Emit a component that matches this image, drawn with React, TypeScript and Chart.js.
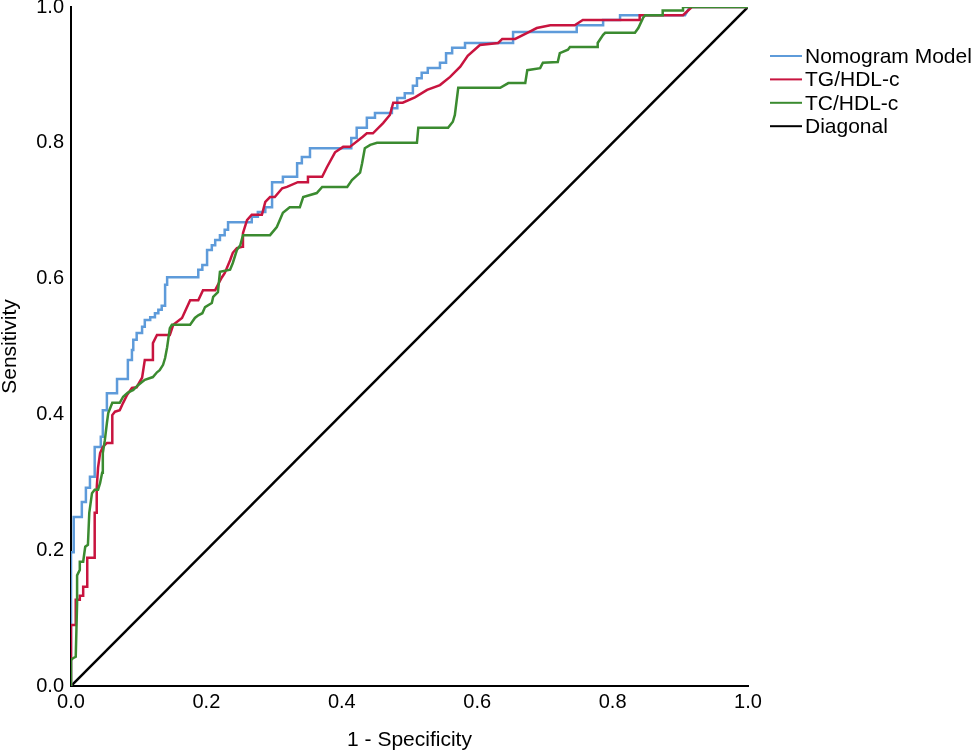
import React, { useEffect, useRef } from "react";
import { Chart, registerables } from "chart.js";

Chart.register(...registerables);

// ---- Data (1 - Specificity, Sensitivity) ----
const seriesLabels = ["Nomogram Model", "TG/HDL-c", "TC/HDL-c", "Diagonal"];
const seriesColors = ["#5E9BDA", "#C8143F", "#3B8B30", "#000000"];

const nomogramFpr = [0,0,0.004,0.004,0.016,0.016,0.022,0.022,0.028,0.028,0.035,0.035,0.044,0.044,0.047,0.047,0.053,0.053,0.068,0.068,0.084,0.084,0.090,0.090,0.092,0.092,0.097,0.097,0.105,0.105,0.109,0.109,0.117,0.117,0.124,0.124,0.129,0.129,0.134,0.134,0.139,0.139,0.142,0.142,0.188,0.188,0.194,0.194,0.201,0.201,0.208,0.208,0.213,0.213,0.220,0.220,0.227,0.227,0.232,0.232,0.267,0.267,0.276,0.276,0.287,0.287,0.297,0.297,0.313,0.313,0.334,0.334,0.341,0.341,0.353,0.353,0.414,0.414,0.422,0.422,0.437,0.437,0.449,0.449,0.474,0.474,0.482,0.482,0.493,0.493,0.505,0.505,0.511,0.511,0.518,0.518,0.527,0.527,0.545,0.545,0.554,0.554,0.563,0.563,0.582,0.582,0.653,0.653,0.747,0.747,0.786,0.786,0.811,0.811,0.907,0.914,1];
const nomogramTpr = [0,0.197,0.197,0.249,0.249,0.271,0.271,0.292,0.292,0.308,0.308,0.352,0.352,0.367,0.367,0.406,0.406,0.431,0.431,0.452,0.452,0.480,0.480,0.495,0.495,0.510,0.510,0.520,0.520,0.529,0.529,0.539,0.539,0.543,0.543,0.549,0.549,0.554,0.554,0.560,0.560,0.591,0.591,0.602,0.602,0.613,0.613,0.620,0.620,0.642,0.642,0.649,0.649,0.657,0.657,0.664,0.664,0.672,0.672,0.683,0.683,0.691,0.691,0.698,0.698,0.705,0.705,0.742,0.742,0.750,0.750,0.770,0.770,0.779,0.779,0.792,0.792,0.807,0.807,0.822,0.822,0.837,0.837,0.844,0.844,0.851,0.851,0.866,0.866,0.873,0.873,0.884,0.884,0.895,0.895,0.903,0.903,0.910,0.910,0.918,0.918,0.932,0.932,0.940,0.940,0.947,0.947,0.963,0.963,0.973,0.973,0.981,0.981,0.988,0.988,1.0,1];

const tgFpr = [0,0,0.007,0.007,0.013,0.013,0.018,0.018,0.024,0.024,0.035,0.035,0.038,0.038,0.040,0.043,0.047,0.053,0.061,0.061,0.065,0.072,0.077,0.083,0.090,0.097,0.105,0.109,0.120,0.121,0.127,0.146,0.151,0.164,0.176,0.188,0.195,0.213,0.217,0.223,0.227,0.235,0.239,0.245,0.253,0.254,0.260,0.267,0.282,0.287,0.294,0.301,0.312,0.319,0.335,0.349,0.350,0.371,0.378,0.390,0.402,0.412,0.431,0.437,0.446,0.461,0.471,0.476,0.490,0.508,0.526,0.545,0.560,0.575,0.586,0.604,0.631,0.637,0.656,0.674,0.688,0.708,0.744,0.756,0.840,0.840,0.904,0.917,1];
const tgTpr = [0,0.090,0.090,0.127,0.127,0.133,0.133,0.146,0.146,0.189,0.189,0.255,0.255,0.292,0.322,0.343,0.352,0.358,0.358,0.399,0.404,0.406,0.417,0.429,0.439,0.440,0.454,0.480,0.480,0.505,0.517,0.517,0.532,0.542,0.568,0.568,0.583,0.583,0.591,0.602,0.608,0.627,0.638,0.645,0.647,0.667,0.686,0.694,0.694,0.713,0.720,0.720,0.733,0.735,0.742,0.742,0.750,0.750,0.764,0.786,0.794,0.794,0.809,0.814,0.814,0.829,0.841,0.859,0.859,0.867,0.878,0.885,0.897,0.912,0.928,0.944,0.947,0.953,0.953,0.962,0.969,0.973,0.973,0.981,0.981,0.988,0.988,1.0,1];

const tcFpr = [0,0,0.003,0.007,0.009,0.009,0.013,0.013,0.018,0.021,0.025,0.027,0.031,0.035,0.040,0.043,0.046,0.047,0.050,0.053,0.055,0.061,0.072,0.077,0.084,0.092,0.099,0.109,0.121,0.127,0.131,0.136,0.139,0.142,0.146,0.149,0.176,0.183,0.188,0.194,0.198,0.208,0.210,0.217,0.220,0.235,0.239,0.245,0.250,0.254,0.294,0.304,0.313,0.323,0.338,0.343,0.363,0.371,0.408,0.415,0.427,0.430,0.434,0.442,0.452,0.511,0.513,0.557,0.564,0.567,0.572,0.634,0.646,0.671,0.674,0.693,0.697,0.719,0.722,0.734,0.737,0.777,0.778,0.786,0.789,0.833,0.838,0.845,0.848,0.873,0.874,0.904,0.904,1];
const tcTpr = [0,0.038,0.041,0.043,0.122,0.163,0.171,0.183,0.183,0.205,0.208,0.255,0.284,0.289,0.289,0.299,0.314,0.343,0.362,0.387,0.402,0.417,0.417,0.426,0.432,0.436,0.443,0.451,0.455,0.462,0.465,0.473,0.483,0.499,0.527,0.532,0.532,0.542,0.546,0.549,0.558,0.564,0.573,0.580,0.610,0.613,0.623,0.642,0.649,0.664,0.664,0.676,0.697,0.705,0.705,0.720,0.726,0.735,0.735,0.745,0.756,0.770,0.792,0.797,0.800,0.800,0.822,0.822,0.831,0.841,0.881,0.881,0.888,0.888,0.907,0.910,0.918,0.919,0.932,0.937,0.941,0.941,0.947,0.959,0.962,0.962,0.969,0.984,0.988,0.988,0.995,0.995,1.0,1];

const diagonalFpr = [0, 1];
const diagonalTpr = [0, 1];

const axisTicks = [0, 0.2, 0.4, 0.6, 0.8, 1.0];
const xTitle = "1 - Specificity";
const yTitle = "Sensitivity";

const FONT = '"Liberation Sans", Arial, sans-serif';

const toPoints = (xs: number[], ys: number[]) => xs.map((x, i) => ({ x, y: ys[i] }));

const legendPlugin = {
  id: "rocLegend",
  afterDraw(chart: any) {
    const ctx = chart.ctx as CanvasRenderingContext2D;
    const left = chart.chartArea.right + 22;
    const top = 56;
    const gap = 23.4;
    ctx.save();
    ctx.font = `21px ${FONT}`;
    ctx.textBaseline = "middle";
    ctx.textAlign = "left";
    seriesLabels.forEach((label, i) => {
      const y = top + i * gap;
      ctx.strokeStyle = seriesColors[i];
      ctx.lineWidth = 2;
      ctx.beginPath();
      ctx.moveTo(left, y);
      ctx.lineTo(left + 32, y);
      ctx.stroke();
      ctx.fillStyle = "#000";
      ctx.fillText(label, left + 35, y + 1);
    });
    ctx.restore();
  },
};

export default function App() {
  const canvasRef = useRef<HTMLCanvasElement | null>(null);

  useEffect(() => {
    if (!canvasRef.current) return;
    const mk = (i: number, xs: number[], ys: number[], order: number, width: number) => ({
      label: seriesLabels[i],
      data: toPoints(xs, ys),
      borderColor: seriesColors[i],
      backgroundColor: seriesColors[i],
      borderWidth: width,
      pointRadius: 0,
      tension: 0,
      fill: false,
      order,
    });
    const chart = new Chart(canvasRef.current, {
      type: "line",
      data: {
        datasets: [
          mk(0, nomogramFpr, nomogramTpr, 2, 2.5),
          mk(1, tgFpr, tgTpr, 1, 2.5),
          mk(2, tcFpr, tcTpr, 0, 2.5),
          mk(3, diagonalFpr, diagonalTpr, 3, 2.5),
        ],
      },
      options: {
        animation: false,
        responsive: false,
        devicePixelRatio: 1,
        parsing: true,
        layout: { padding: { top: 7, right: 227, left: 0, bottom: 0 } },
        plugins: { legend: { display: false }, tooltip: { enabled: false } },
        scales: {
          x: {
            type: "linear",
            min: 0,
            max: 1,
            afterBuildTicks: (s: any) => {
              s.ticks = axisTicks.map((v) => ({ value: v }));
            },
            afterFit: (s: any) => {
              s.height = 67;
              s.paddingLeft = 0;
              s.paddingRight = 0;
            },
            grid: { display: false, drawTicks: false },
            border: { display: true, color: "#000", width: 2 },
            ticks: {
              color: "#000",
              font: { family: FONT, size: 20 },
              padding: 4,
              maxRotation: 0,
              callback: (v: any) => Number(v).toFixed(1),
            },
            title: {
              display: true,
              text: xTitle,
              color: "#000",
              font: { family: FONT, size: 21 },
              padding: { top: 0, bottom: 0 },
            },
          },
          y: {
            type: "linear",
            min: 0,
            max: 1,
            afterBuildTicks: (s: any) => {
              s.ticks = axisTicks.map((v) => ({ value: v }));
            },
            afterFit: (s: any) => {
              s.width = 71;
              s.paddingTop = 0;
              s.paddingBottom = 0;
            },
            grid: { display: false, drawTicks: false },
            border: { display: true, color: "#000", width: 2 },
            ticks: {
              color: "#000",
              font: { family: FONT, size: 20 },
              padding: 7,
              callback: (v: any) => Number(v).toFixed(1),
            },
            title: {
              display: true,
              text: yTitle,
              color: "#000",
              font: { family: FONT, size: 21 },
              padding: { top: -2, bottom: 0 },
            },
          },
        },
      },
      plugins: [legendPlugin],
    } as any);
    return () => chart.destroy();
  }, []);

  return (
    <div style={{ position: "absolute", left: 0, top: 0, width: 975, height: 753, background: "#fff" }}>
      <canvas ref={canvasRef} width={975} height={753} />
    </div>
  );
}
